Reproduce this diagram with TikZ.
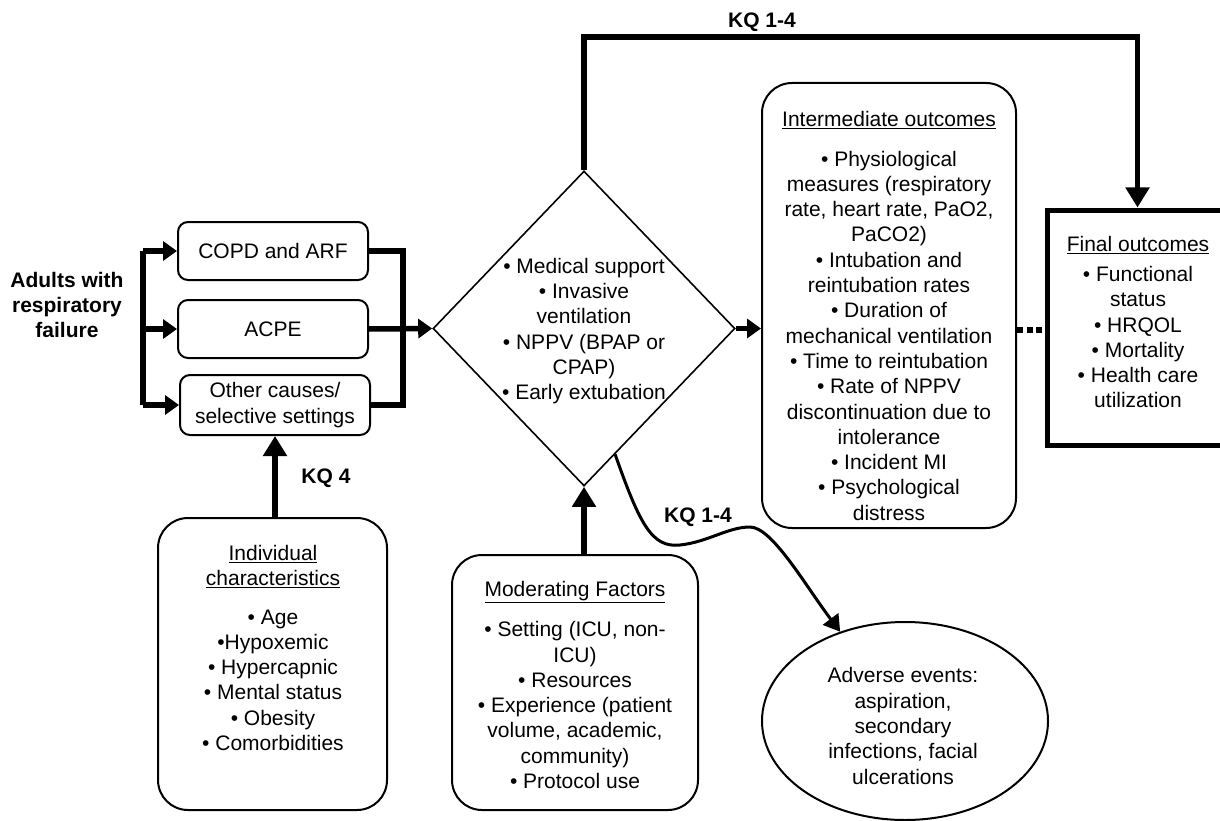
\documentclass[tikz,border=0pt]{standalone}
\usepackage{fontspec}
\setmainfont{Liberation Sans}
\usetikzlibrary{arrows.meta,shapes.geometric,calc}
\begin{document}
\begin{tikzpicture}[x=1pt,y=-1pt,
  every node/.style={font=\fontsize{21}{25.3}\selectfont, align=center},
  smallbox/.style={draw, line width=2pt, rounded corners=10pt, minimum width=190pt, minimum height=58pt, inner sep=0pt},
  bigbox/.style={draw, line width=2pt, rounded corners=30pt, inner sep=0pt},
  txt/.style={inner sep=0pt},
  kq/.style={font=\fontsize{21}{25.3}\selectfont\bfseries, inner sep=0pt},
  heavy/.style={line width=5.5pt, line join=miter},
  harrow/.style={heavy, -{Triangle[length=14pt,width=19pt]}},
  bigarrow/.style={heavy, -{Triangle[length=20pt,width=23pt]}}
]
\useasboundingbox (0,0) rectangle (1220,821);

% left group
\node[kq] (adults) at (67,305) {Adults with\\respiratory\\failure};
\node[smallbox] (copd) at (273,251) {COPD and ARF};
\node[smallbox] (acpe) at (273,329) {ACPE};
\node[smallbox, minimum height=60pt] (other) at (275,405) {Other causes/\\selective settings};

\coordinate (lbt) at (143,251);
\coordinate (lbb) at (143,405);
\coordinate (rbt) at (403,251);
\coordinate (rbb) at (403,405);

% diamond
\node[diamond, draw, line width=1.6pt, minimum width=302pt, minimum height=315pt, inner sep=0pt] (dia) at (584,328.5) {};
\node[txt] (diatext) at (584,331) {• Medical support\\• Invasive\\ventilation\\• NPPV (BPAP or\\CPAP)\\• Early extubation};

% intermediate outcomes
\node[bigbox, minimum width=254pt, minimum height=445pt] (inter) at (889,305.5) {};
\node[txt] (intertext) at (889,316) {\underline{Intermediate outcomes}\\[14pt]
• Physiological\\measures (respiratory\\rate, heart rate, PaO2,\\PaCO2)\\• Intubation and\\reintubation rates\\• Duration of\\mechanical ventilation\\• Time to reintubation\\• Rate of NPPV\\discontinuation due to\\intolerance\\• Incident MI\\• Psychological\\distress};

% final outcomes
\node[draw, line width=5pt, minimum width=181pt, minimum height=235pt, inner sep=0pt] (fin) at (1137.5,327.5) {};
\node[txt] (fintext) at (1138,322) {\underline{Final outcomes}\\[5pt]• Functional\\status\\• HRQOL\\• Mortality\\• Health care\\utilization};

% individual characteristics
\node[bigbox, minimum width=229pt, minimum height=292pt] (indiv) at (272.5,664) {};
\node[txt] (indivtext) at (273,648) {\underline{Individual}\\\underline{characteristics}\\[13pt]• Age\\•Hypoxemic\\• Hypercapnic\\• Mental status\\• Obesity\\• Comorbidities};

% moderating factors
\node[bigbox, minimum width=246pt, minimum height=255pt] (moder) at (575,682.5) {};
\node[txt] (modertext) at (575,685) {\underline{Moderating Factors}\\[15pt]• Setting (ICU, non-\\ICU)\\• Resources\\• Experience (patient\\volume, academic,\\community)\\• Protocol use};

% adverse events
\node[ellipse, draw, line width=2pt, minimum width=286pt, minimum height=198pt, inner sep=0pt] (adv) at (905,721) {};
\node[txt] (advtext) at (903,726) {Adverse events:\\aspiration,\\secondary\\infections, facial\\ulcerations};

% labels
\node[kq] (kqtop) at (762,22) {KQ 1-4};
\node[kq] (kq4) at (326,478) {KQ 4};
\node[kq] (kqlow) at (698,517) {KQ 1-4};

% connectors
\draw[heavy] (lbt) -- (lbb);
\draw[harrow] (lbt) -- (copd.west);
\draw[harrow] (acpe.west -| lbt) -- (acpe.west);
\draw[harrow] (lbb) -- (other.west);
\draw[heavy] (copd.east) -- (rbt) -- (rbb) -- (other.east);
\draw[harrow] (acpe.east) -- (dia.west);
\draw[harrow] (dia.east) -- (dia.east -| inter.west);
\draw[line width=5.5pt, dash pattern=on 6pt off 3.5pt] (inter.east |- 0,330) -- (fin.west |- 0,330);
\draw[bigarrow] (dia.north) -- (dia.north |- 0,37) -- (fin.north |- 0,37) -- (fin.north);
\draw[bigarrow] (other.south |- indiv.north) -- (other.south);
\draw[bigarrow] (dia.south |- moder.north) -- (dia.south);
\coordinate (kqstart) at ($(dia.south)!0.205!(dia.east)$);
\draw[line width=3pt, -{Triangle[length=16pt,width=19pt]}] (kqstart) .. controls (640,525) and (652,548) .. (680,545) .. controls (708,542) and (728,527) .. (750,527) .. controls (772,527) and (805,585) .. (adv.126);
\end{tikzpicture}
\end{document}
